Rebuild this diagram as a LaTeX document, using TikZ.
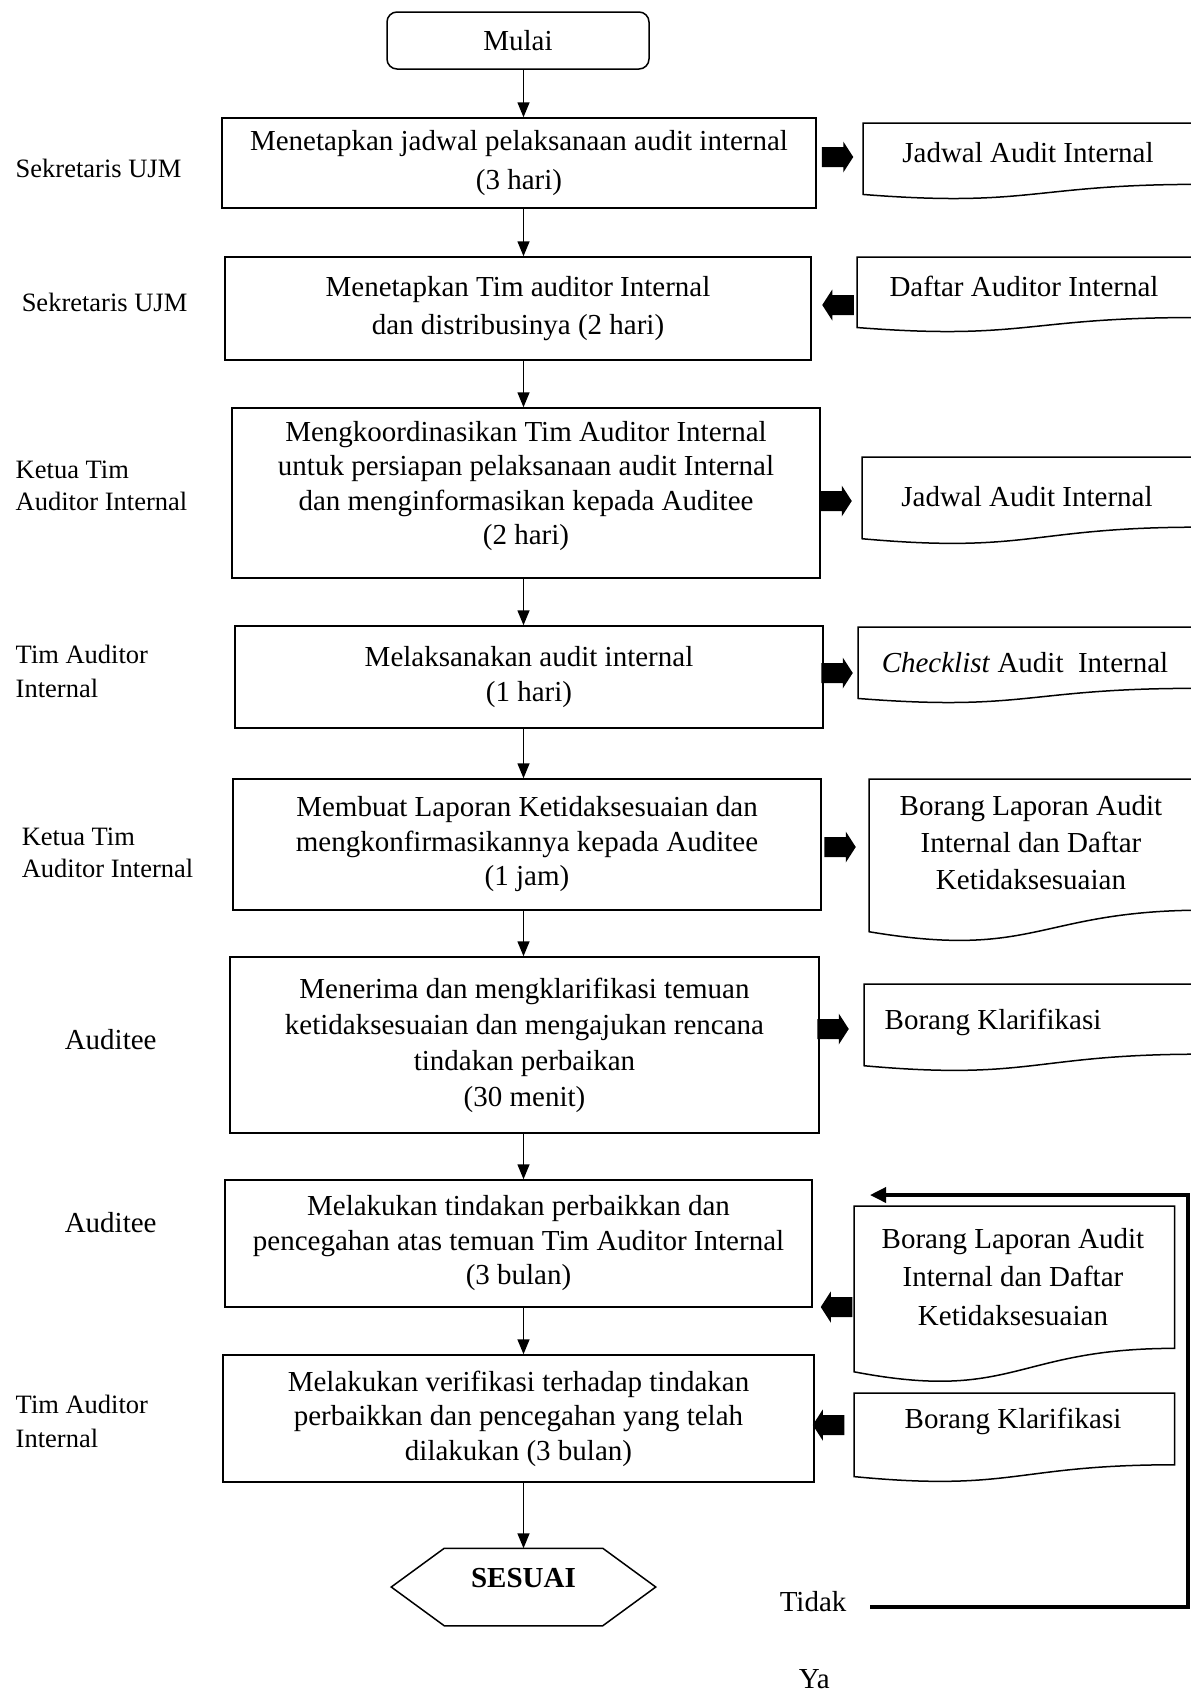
\documentclass[tikz,border=0pt]{standalone}
\usepackage{fontspec}
\setmainfont{Liberation Serif}
\usetikzlibrary{arrows.meta,calc}

\newcommand{\docoutline}[1]{%
  \draw (#1.north west) -- (#1.north east)
    -- ($(#1.north east)!0.802!(#1.south east)$)
    .. controls ($(#1.north)!0.802!(#1.south)$) and ($(#1.north)!1.107!(#1.south)$)
    .. ($(#1.north west)!0.934!(#1.south west)$) -- cycle;}
\newcommand{\blockright}[1]{%
  \fill ($(#1.west)+(0,-10)$) -- ($(#1.east)+(-10,-10)$) -- ($(#1.east)+(-10,-15.5)$) -- (#1.east)
    -- ($(#1.east)+(-10,15.5)$) -- ($(#1.east)+(-10,10)$) -- ($(#1.west)+(0,10)$) -- cycle;}
\newcommand{\blockleft}[1]{%
  \fill ($(#1.east)+(0,-10)$) -- ($(#1.west)+(10,-10)$) -- ($(#1.west)+(10,-15.5)$) -- (#1.west)
    -- ($(#1.west)+(10,15.5)$) -- ($(#1.west)+(10,10)$) -- ($(#1.east)+(0,10)$) -- cycle;}

\begin{document}
\begin{tikzpicture}[x=1pt, y=-1pt, line width=1.5pt, >={Triangle[length=15pt,width=12pt]}]
\tikzstyle{every node} = [inner sep=0pt]
\tikzstyle{process} = [draw, rectangle, align=center, font=\fontsize{29pt}{34.5pt}\selectfont]
\tikzstyle{terminal} = [draw, rectangle, rounded corners=10pt, font=\fontsize{29pt}{34.5pt}\selectfont]
\tikzstyle{docbox} = [rectangle, anchor=north west]
\tikzstyle{doctext} = [align=center, font=\fontsize{29pt}{34.5pt}\selectfont]
\tikzstyle{role} = [anchor=west, align=left, font=\fontsize{26.5pt}{32pt}\selectfont]
\tikzstyle{bigrole} = [anchor=west, align=left, font=\fontsize{29pt}{34.5pt}\selectfont]
\tikzstyle{blockarrow} = [rectangle, minimum width=30pt, minimum height=31pt]

\useasboundingbox (0,0) rectangle (1191,1695);
\clip (0,0) rectangle (1191,1695);

\coordinate (axis) at (523.5,0);

\node[terminal, minimum width=262pt, minimum height=57pt] (mulai) at (518,40.5) {Mulai};
\node[process, minimum width=594pt, minimum height=90pt, font=\fontsize{29pt}{38.5pt}\selectfont] (b1) at (519,163) {Menetapkan jadwal pelaksanaan audit internal\\(3 hari)};
\node[process, minimum width=586pt, minimum height=103pt, font=\fontsize{29pt}{38.5pt}\selectfont] (b2) at (518,308.5) {Menetapkan Tim auditor Internal\\dan distribusinya (2 hari)};
\node[process, minimum width=588pt, minimum height=170pt, text depth=20pt] (b3) at (526,493) {Mengkoordinasikan Tim Auditor Internal\\untuk persiapan pelaksanaan audit Internal\\dan menginformasikan kepada Auditee\\(2 hari)};
\node[process, minimum width=588pt, minimum height=102pt] (b4) at (529,677) {Melaksanakan audit internal\\(1 hari)};
\node[process, minimum width=588pt, minimum height=131pt] (b5) at (527,844.5) {Membuat Laporan Ketidaksesuaian dan\\mengkonfirmasikannya kepada Auditee\\(1 jam)};
\node[process, minimum width=589pt, minimum height=176pt, font=\fontsize{29pt}{36pt}\selectfont] (b6) at (524.5,1045) {Menerima dan mengklarifikasi temuan\\ketidaksesuaian dan mengajukan rencana\\tindakan perbaikan\\(30 menit)};
\node[process, minimum width=587pt, minimum height=127pt] (b7) at (518.5,1243.5) {Melakukan tindakan perbaikkan dan\\pencegahan atas temuan Tim Auditor Internal\\(3 bulan)};
\node[process, minimum width=591pt, minimum height=127pt] (b8) at (518.5,1418.5) {Melakukan verifikasi terhadap tindakan\\perbaikkan dan pencegahan yang telah\\dilakukan (3 bulan)};
\node[minimum width=263pt, minimum height=76pt, text depth=18pt, font=\fontsize{29pt}{34.5pt}\selectfont] (sesuai) at (523.5,1587) {\textbf{SESUAI}};
\draw (sesuai.west) -- ($(sesuai.north west)+(53,0)$) -- ($(sesuai.north east)+(-53,0)$) -- (sesuai.east)
  -- ($(sesuai.south east)+(-53,0)$) -- ($(sesuai.south west)+(53,0)$) -- cycle;

\node[docbox, minimum width=335pt, minimum height=75pt] (d1) at (863,123) {};
\node[docbox, minimum width=335pt, minimum height=74pt] (d2) at (857,257) {};
\node[docbox, minimum width=335pt, minimum height=86pt] (d3) at (862,457) {};
\node[docbox, minimum width=335pt, minimum height=75pt] (d4) at (858,627) {};
\node[docbox, minimum width=335pt, minimum height=162pt] (d5) at (869,779) {};
\node[docbox, minimum width=335pt, minimum height=86pt] (d6) at (864,984) {};
\node[docbox, minimum width=319pt, minimum height=176pt] (d7) at (854,1206) {};
\node[docbox, minimum width=319pt, minimum height=88pt] (d8) at (854,1393) {};
\docoutline{d1}
\docoutline{d2}
\docoutline{d3}
\docoutline{d4}
\docoutline{d5}
\docoutline{d6}
\docoutline{d7}
\docoutline{d8}

\node[doctext] (t1) at (1028,153) {Jadwal Audit Internal};
\node[doctext] (t2) at (1024,286) {Daftar Auditor Internal};
\node[doctext] (t3) at (1027,497) {Jadwal Audit Internal};
\node[doctext] (t4) at (1025,663) {\textit{Checklist} Audit\ \ Internal};
\node[doctext, font=\fontsize{29pt}{37pt}\selectfont] (t5) at (1031,843) {Borang Laporan Audit\\Internal dan Daftar\\Ketidaksesuaian};
\node[doctext] (t6) at (993,1022) {Borang Klarifikasi};
\node[doctext, font=\fontsize{29pt}{38.5pt}\selectfont] (t7) at (1013,1277) {Borang Laporan Audit\\Internal dan Daftar\\Ketidaksesuaian};
\node[doctext] (t8) at (1013,1421) {Borang Klarifikasi};

\node[blockarrow] (a1) at (837.5,157) {};
\node[blockarrow] (a2) at (838,305) {};
\node[blockarrow] (a3) at (836,501) {};
\node[blockarrow] (a4) at (837,673) {};
\node[blockarrow] (a5) at (840,847) {};
\node[blockarrow] (a6) at (833,1029) {};
\node[blockarrow] (a7) at (836.5,1307) {};
\node[blockarrow] (a8) at (828.5,1425) {};
\blockright{a1}
\blockleft{a2}
\blockright{a3}
\blockright{a4}
\blockright{a5}
\blockright{a6}
\blockleft{a7}
\blockleft{a8}

\node[role] (r1) at (15,168) {Sekretaris UJM};
\node[role] (r2) at (21,302) {Sekretaris UJM};
\node[role] (r3) at (15,486) {Ketua Tim\\Auditor Internal};
\node[role, font=\fontsize{26.5pt}{34pt}\selectfont] (r4) at (15,671) {Tim Auditor\\Internal};
\node[role] (r5) at (21,853) {Ketua Tim\\Auditor Internal};
\node[bigrole] (r6) at (64,1040) {Auditee};
\node[bigrole] (r7) at (64,1223) {Auditee};
\node[role, font=\fontsize{26.5pt}{34pt}\selectfont] (r8) at (15,1421) {Tim Auditor\\Internal};

\node[bigrole] (tidak) at (779,1602) {Tidak};
\node[bigrole] (ya) at (798,1679) {Ya};

\draw [->] (mulai.south -| axis) -- (b1.north -| axis);
\draw [->] (b1.south -| axis) -- (b2.north -| axis);
\draw [->] (b2.south -| axis) -- (b3.north -| axis);
\draw [->] (b3.south -| axis) -- (b4.north -| axis);
\draw [->] (b4.south -| axis) -- (b5.north -| axis);
\draw [->] (b5.south -| axis) -- (b6.north -| axis);
\draw [->] (b6.south -| axis) -- (b7.north -| axis);
\draw [->] (b7.south -| axis) -- (b8.north -| axis);
\draw [->] (b8.south -| axis) -- (sesuai.north);

\coordinate (fbstart) at (870,1607);
\coordinate (fbtop) at (1188,1195);
\coordinate (fbend) at (870,1195);
\draw [line width=3.5pt, -{Triangle[length=16pt,width=15pt]}] (fbstart) -| (fbtop) -- (fbend);
\end{tikzpicture}
\end{document}
